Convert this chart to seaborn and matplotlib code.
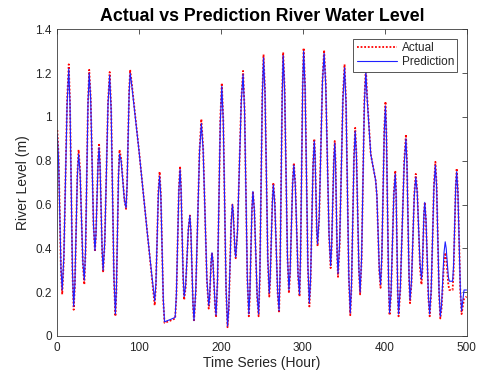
import matplotlib
matplotlib.use("Agg")
import matplotlib.pyplot as plt
import seaborn as sns
import pandas as pd

# Hourly river level readings (hour, metres)
hours = [0, 1.5, 4.5, 6, 8, 12, 14, 15.5, 18.5, 20, 21.5, 24.5, 26, 27.8, 31.2, 33,
         34.5, 37.5, 39, 40.8, 44.2, 46, 47.2, 49.8, 51, 52.2, 54.8, 56, 58, 62, 64,
         65.8, 69.2, 71, 72.2, 74.8, 76, 78, 82, 84, 85.2, 87.8, 89, 90.5, 100, 110,
         116, 119, 120.5, 123.5, 125, 126.5, 129.5, 131, 138, 144, 145.5, 148.5, 150,
         151.2, 153.8, 155, 156.8, 160.2, 162, 163.2, 165.8, 167, 169.2, 173.8, 176,
         178.2, 182.8, 185, 186, 188, 189, 190.2, 192.8, 194, 195.8, 199.2, 201,
         202.8, 206.2, 208, 209.5, 212.5, 214, 215, 217, 218, 220.2, 224.8, 227,
         228.8, 232.2, 234, 235.2, 237.8, 239, 240.8, 244.2, 246, 247.5, 250.5, 252,
         253.8, 257.2, 259, 260.2, 262.8, 264, 265.8, 269.2, 271, 272.2, 274.8, 276,
         277.8, 281.2, 283, 284.5, 287.5, 289, 290.8, 294.2, 296, 297.2, 299.8, 301,
         302.8, 306.2, 308, 309.5, 312.5, 314, 315, 317, 318, 320, 324, 326,
         328, 332, 334, 335.2, 337.8, 339, 340, 342, 343, 345, 349, 351,
         352.8, 356.2, 358, 359.5, 362.5, 364, 365.5, 368.5, 370, 371.8, 375.2, 377,
         378.5, 383, 389, 390.5, 393.5, 395, 396.5, 399.5, 401,
         402.2, 404.8, 406, 407.8, 411.2, 413, 414, 416, 417, 419.2, 423.8, 426,
         427.2, 429.8, 431, 432.8, 436.2, 438, 439.8, 443.2, 445, 446, 448, 449,
         450.5, 453.5, 455, 456.8, 460.2, 462, 463.5, 466.5, 468, 469.5, 472.5, 474,
         475.2, 477.8, 479, 483, 484.2, 486.8, 488, 489.5, 492.5, 494, 497, 500]

actual = [0.94, 0.83, 0.30, 0.19, 0.35, 1.08, 1.24, 1.07, 0.29, 0.12, 0.23, 0.74, 0.85, 0.76, 0.33, 0.235,
          0.38, 1.07, 1.215, 1.09, 0.51, 0.385, 0.46, 0.80, 0.88, 0.79, 0.38, 0.29, 0.43, 1.07, 1.205,
          1.04, 0.26, 0.09, 0.20, 0.74, 0.85, 0.81, 0.62, 0.58, 0.68, 1.12, 1.215, 1.17, 0.84, 0.47,
          0.25, 0.14, 0.23, 0.66, 0.75, 0.65, 0.16, 0.06, 0.07, 0.08, 0.18, 0.67, 0.775,
          0.68, 0.26, 0.165, 0.22, 0.49, 0.55, 0.48, 0.14, 0.065, 0.20, 0.85, 0.99,
          0.86, 0.25, 0.125, 0.16, 0.34, 0.38, 0.34, 0.13, 0.085, 0.25, 0.995, 1.155,
          0.99, 0.21, 0.04, 0.12, 0.52, 0.60, 0.56, 0.39, 0.355, 0.48, 1.08, 1.21,
          1.04, 0.26, 0.09, 0.175, 0.575, 0.66, 0.575, 0.175, 0.09, 0.27, 1.105, 1.285,
          1.12, 0.345, 0.18, 0.26, 0.62, 0.70, 0.61, 0.195, 0.105, 0.285, 1.115, 1.295,
          1.13, 0.36, 0.195, 0.285, 0.70, 0.79, 0.70, 0.27, 0.18, 0.35, 1.145, 1.315,
          1.14, 0.31, 0.135, 0.25, 0.785, 0.90, 0.83, 0.48, 0.41, 0.54, 1.17, 1.305,
          1.155, 0.46, 0.31, 0.40, 0.80, 0.89, 0.80, 0.36, 0.27, 0.415, 1.095, 1.24,
          1.07, 0.265, 0.095, 0.225, 0.82, 0.95, 0.835, 0.30, 0.19, 0.345, 1.075, 1.23,
          1.10, 0.83, 0.71, 0.64, 0.29, 0.22, 0.35, 0.94, 1.07,
          0.92, 0.24, 0.095, 0.19, 0.655, 0.755, 0.655, 0.19, 0.09, 0.215, 0.795, 0.92,
          0.805, 0.265, 0.15, 0.24, 0.65, 0.74, 0.665, 0.31, 0.235, 0.29, 0.555, 0.61,
          0.53, 0.17, 0.09, 0.195, 0.69, 0.795, 0.69, 0.19, 0.08, 0.125, 0.335, 0.38,
          0.355, 0.235, 0.21, 0.21, 0.29, 0.68, 0.765, 0.665, 0.20, 0.10, 0.17, 0.18]

prediction = [0.92, 0.81, 0.31, 0.21, 0.36, 1.06, 1.22, 1.06, 0.30, 0.135, 0.24, 0.73, 0.83, 0.75, 0.34, 0.255,
              0.39, 1.06, 1.20, 1.08, 0.51, 0.39, 0.46, 0.79, 0.86, 0.78, 0.39, 0.30, 0.43, 1.06, 1.19,
              1.03, 0.27, 0.10, 0.21, 0.73, 0.83, 0.80, 0.62, 0.585, 0.68, 1.11, 1.20, 1.16, 0.84, 0.47,
              0.26, 0.16, 0.24, 0.65, 0.73, 0.64, 0.17, 0.065, 0.075, 0.085, 0.19, 0.66, 0.76,
              0.67, 0.27, 0.18, 0.23, 0.49, 0.55, 0.48, 0.15, 0.07, 0.21, 0.84, 0.97,
              0.85, 0.26, 0.14, 0.17, 0.34, 0.38, 0.34, 0.14, 0.095, 0.26, 0.98, 1.14,
              0.98, 0.22, 0.045, 0.125, 0.52, 0.60, 0.56, 0.395, 0.36, 0.48, 1.07, 1.195,
              1.03, 0.27, 0.10, 0.185, 0.575, 0.66, 0.575, 0.185, 0.10, 0.28, 1.095, 1.27,
              1.11, 0.355, 0.195, 0.27, 0.61, 0.69, 0.60, 0.205, 0.115, 0.29, 1.10, 1.28,
              1.12, 0.37, 0.21, 0.295, 0.69, 0.78, 0.69, 0.28, 0.19, 0.36, 1.13, 1.30,
              1.13, 0.32, 0.15, 0.26, 0.775, 0.89, 0.82, 0.49, 0.42, 0.54, 1.16, 1.29,
              1.145, 0.47, 0.32, 0.41, 0.79, 0.88, 0.79, 0.37, 0.285, 0.425, 1.08, 1.225,
              1.06, 0.275, 0.105, 0.235, 0.81, 0.935, 0.825, 0.31, 0.20, 0.355, 1.06, 1.21,
              1.09, 0.83, 0.71, 0.64, 0.30, 0.235, 0.36, 0.93, 1.05,
              0.91, 0.25, 0.105, 0.20, 0.645, 0.74, 0.645, 0.20, 0.10, 0.225, 0.78, 0.90,
              0.79, 0.275, 0.165, 0.25, 0.64, 0.725, 0.655, 0.33, 0.26, 0.31, 0.56, 0.61,
              0.53, 0.18, 0.10, 0.205, 0.68, 0.78, 0.68, 0.20, 0.09, 0.14, 0.38, 0.43,
              0.40, 0.27, 0.25, 0.25, 0.32, 0.68, 0.75, 0.655, 0.21, 0.115, 0.21, 0.21]

x_ticks = [0, 100, 200, 300, 400, 500]
y_ticks = [0, 0.2, 0.4, 0.6, 0.8, 1, 1.2, 1.4]
y_tick_labels = ["0", "0.2", "0.4", "0.6", "0.8", "1", "1.2", "1.4"]

sns.set_style("white")
plt.rcParams["font.family"] = ["Liberation Sans", "DejaVu Sans"]

df_act = pd.DataFrame({"hour": hours, "level": actual})
df_pred = pd.DataFrame({"hour": hours, "level": prediction})

fig = plt.figure(figsize=(4.83, 3.81), dpi=100)
ax = fig.add_axes([57.3 / 483, 1 - 336 / 381, (466.5 - 57.3) / 483, (336 - 29.3) / 381])

sns.lineplot(data=df_act, x="hour", y="level", ax=ax, color="#ff0000",
             linestyle=(0, (1, 1)), linewidth=1.3, label="Actual")
sns.lineplot(data=df_pred, x="hour", y="level", ax=ax, color="#2020ff",
             linestyle="-", linewidth=0.8, label="Prediction")

ax.set_xlim(0, 500)
ax.set_ylim(0, 1.4)
ax.set_xticks(x_ticks)
ax.set_yticks(y_ticks)
ax.set_yticklabels(y_tick_labels)

edge = "#3a3a3a"
for side in ["left", "right", "top", "bottom"]:
    ax.spines[side].set_visible(True)
    ax.spines[side].set_color(edge)
    ax.spines[side].set_linewidth(0.6)
ax.tick_params(direction="in", length=3.5, width=0.6, color=edge,
               top=True, right=True, labelsize=8.5, labelcolor="#262626", pad=4)

ax.set_xlabel("Time Series (Hour)", fontsize=10, color="#262626", labelpad=2)
ax.set_ylabel("River Level (m)", fontsize=10, color="#262626", labelpad=4)
ax.set_title("Actual vs Prediction River Water Level", fontsize=12.8, fontweight="bold",
             color="black", pad=6)

leg = ax.legend(loc="upper right", bbox_to_anchor=(0.978, 0.97), fontsize=8.5,
                frameon=True, fancybox=False, framealpha=1, edgecolor="#3a3a3a",
                borderpad=0.3, handlelength=3.4, handletextpad=0.4, labelspacing=0.2,
                borderaxespad=0)
leg.get_frame().set_linewidth(0.6)

fig.savefig("out.png", dpi=100)
